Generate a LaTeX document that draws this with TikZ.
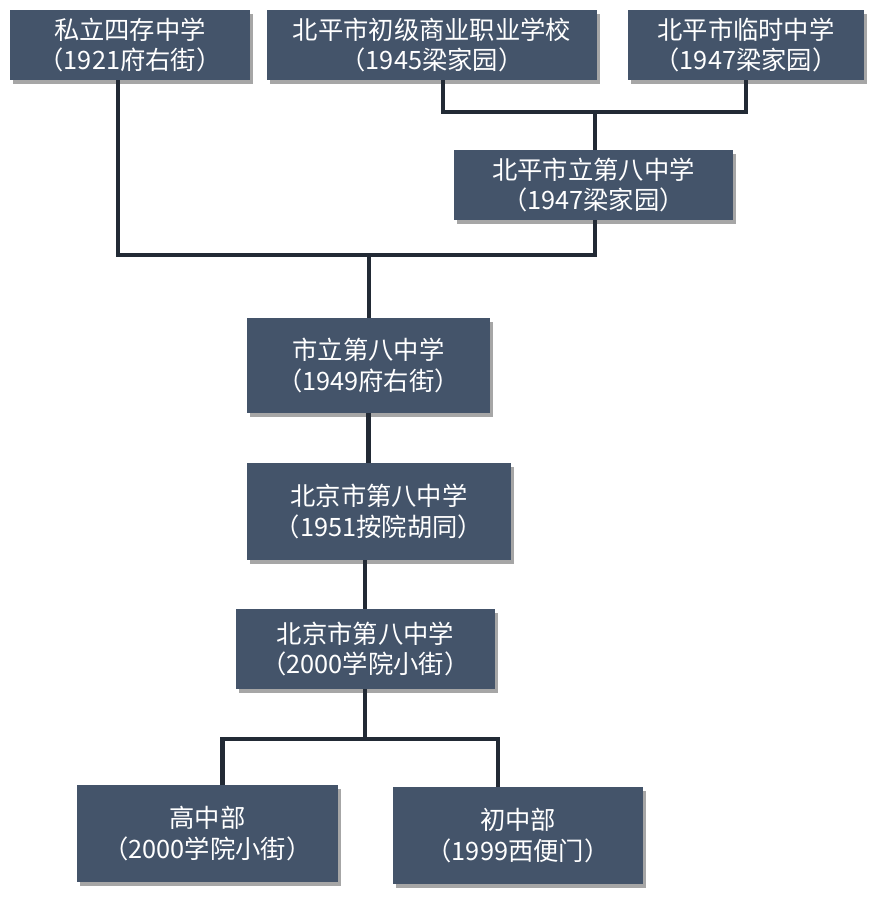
\documentclass[tikz,border=0pt]{standalone}
\usepackage{fontspec}
\newfontfamily\cjk{Noto Sans CJK SC}
\usepackage{tikz}
\usetikzlibrary{positioning, calc, shadows}
\usepackage{xcolor}
\definecolor{boxslate}{HTML}{44546A}
\definecolor{linkdark}{HTML}{222A35}

\begin{document}
\begin{tikzpicture}[
  x=0.025cm, y=-0.025cm,
  box/.style={
    fill=boxslate, draw=none, align=center, text=white,
    font=\cjk\fontsize{18}{21.5}\selectfont, inner sep=0pt,
    drop shadow={shadow xshift=2pt, shadow yshift=-2.5pt, opacity=0.35, fill=black}
  },
  link/.style={line width=3pt, linkdark}
]
  \useasboundingbox (0,0) rectangle (875,897);

  % Top row -- three founding schools
  \node[box, minimum width=6cm, minimum height=1.75cm] (sicun)
    at (130,45) {私立四存中学\\（1921府右街）};
  \node[box, minimum width=8.25cm, minimum height=1.75cm] (shangye)
    at (432,45) {北平市初级商业职业学校\\（1945梁家园）};
  \node[box, minimum width=5.9cm, minimum height=1.75cm] (linshi)
    at (746,45) {北平市临时中学\\（1947梁家园）};

  % Merged school
  \node[box, minimum width=6.975cm, minimum height=1.75cm] (beiping)
    at (593.5,185) {北平市立第八中学\\（1947梁家园）};

  % Main line
  \node[box, minimum width=6.075cm, minimum height=2.375cm] (shili)
    at (368.5,365.5) {市立第八中学\\（1949府右街）};
  \node[box, minimum width=6.6cm, minimum height=2.425cm] (bajing)
    at (379,511.5) {北京市第八中学\\（1951按院胡同）};
  \node[box, minimum width=6.475cm, minimum height=2cm] (xueyuan)
    at (365.5,649) {北京市第八中学\\（2000学院小街）};

  % Two campuses
  \node[box, minimum width=6.525cm, minimum height=2.425cm] (gaozhong)
    at (207.5,833.5) {高中部\\（2000学院小街）};
  \node[box, minimum width=6.25cm, minimum height=2.425cm] (chuzhong)
    at (518,835.5) {初中部\\（1999西便门）};

  % Junctions
  \coordinate (jtop) at (595,112);
  \coordinate (jmid) at (369,255);
  \coordinate (jlow) at (365,739);

  % Connectors
  \draw[link] ([xshift=0.275cm]shangye.south) |- (jtop) -| (linshi.south);
  \draw[link] (jtop) -- (jtop |- beiping.north);
  \draw[link] ([xshift=-0.3cm]sicun.south) |- (jmid) -| (jtop |- beiping.south);
  \draw[link] (jmid) -- (jmid |- shili.north);
  \draw[link] (shili.south) -- (shili.south |- bajing.north);
  \draw[link] (jlow |- bajing.south) -- (jlow |- xueyuan.north);
  \draw[link] (jlow |- xueyuan.south) -- (jlow);
  \draw[link] ([xshift=0.375cm]gaozhong.north) |- (jlow) -| ([xshift=-0.5cm]chuzhong.north);
\end{tikzpicture}
\end{document}
